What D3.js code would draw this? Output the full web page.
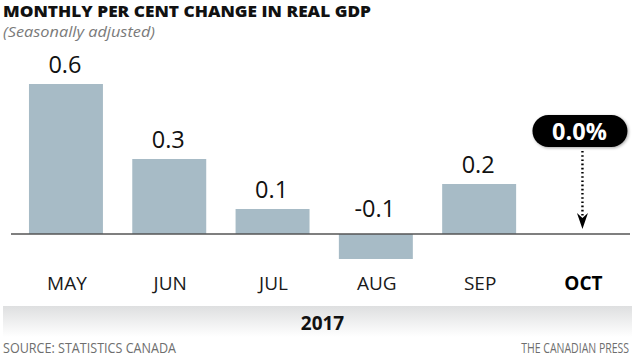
<!DOCTYPE html>
<html>
<head>
<meta charset="utf-8">
<script src="https://cdn.jsdelivr.net/npm/d3@7"></script>
<style>
  html, body { margin: 0; padding: 0; background: #fff; }
  svg { display: block; font-family: "Open Sans", "Noto Sans", sans-serif; }
</style>
</head>
<body>
<svg id="chart" width="635" height="357"></svg>
<script>
const months = ["MAY", "JUN", "JUL", "AUG", "SEP", "OCT"];
const values = [0.6, 0.3, 0.1, -0.1, 0.2, 0.0];
const valueLabels = ["0.6", "0.3", "0.1", "-0.1", "0.2", "0.0%"];
const highlightMonth = "OCT";
const yearLabel = "2017";
const titleText = "MONTHLY PER CENT CHANGE IN REAL GDP";
const subtitleText = "(Seasonally adjusted)";
const sourceText = "SOURCE: STATISTICS CANADA";
const creditText = "THE CANADIAN PRESS";

const svg = d3.select("#chart");
const defs = svg.append("defs");

const x = d3.scaleBand()
  .domain(months)
  .range([14.3, 634.1])
  .paddingInner(0.284)
  .paddingOuter(0.142);

const y = d3.scaleLinear().domain([-0.1, 0.6]).range([259, 84]);

// Title & subtitle
svg.append("text")
  .attr("x", 3).attr("y", 17)
  .attr("font-size", 16).attr("font-weight", 800).attr("fill", "#111")
  .attr("textLength", 368).attr("lengthAdjust", "spacingAndGlyphs")
  .text(titleText);
svg.append("text")
  .attr("x", 3).attr("y", 36.5)
  .attr("font-size", 14).attr("font-style", "italic").attr("fill", "#7a7a7a")
  .attr("textLength", 152).attr("lengthAdjust", "spacingAndGlyphs")
  .text(subtitleText);

const data = months.map((m, i) => ({ m, v: values[i], label: valueLabels[i] }));
const barData = data.filter(d => d.m !== highlightMonth);

// Bars
svg.append("g").selectAll("rect").data(barData).join("rect")
  .attr("x", d => x(d.m))
  .attr("width", x.bandwidth())
  .attr("y", d => Math.min(y(d.v), y(0)))
  .attr("height", d => Math.abs(y(d.v) - y(0)))
  .attr("fill", "#a7bbc6");

// Zero line
svg.append("line")
  .attr("x1", 11).attr("x2", 630)
  .attr("y1", y(0)).attr("y2", y(0))
  .attr("stroke", "#555").attr("stroke-width", 1.3);

// Value labels
svg.append("g").selectAll("text").data(barData).join("text")
  .attr("x", d => x(d.m) + x.bandwidth() / 2 - 1)
  .attr("y", d => d.v >= 0 ? y(d.v) - 11 : y(0) - 17)
  .attr("text-anchor", "middle")
  .attr("font-size", 23.5).attr("fill", "#111")
  .text(d => d.label);

// Highlight callout for OCT
const hl = data.find(d => d.m === highlightMonth);
const cx = x(hl.m) + x.bandwidth() / 2;
const filt = defs.append("filter").attr("id", "shadow")
  .attr("x", "-20%").attr("y", "-30%").attr("width", "140%").attr("height", "160%");
filt.append("feDropShadow").attr("dx", 1).attr("dy", 1).attr("stdDeviation", 1.5)
  .attr("flood-color", "#000").attr("flood-opacity", 0.35);

svg.append("rect")
  .attr("x", cx - 50).attr("y", 115)
  .attr("width", 95).attr("height", 32).attr("rx", 16).attr("ry", 16)
  .attr("fill", "#000").attr("filter", "url(#shadow)");
svg.append("text")
  .attr("x", cx - 3).attr("y", 139.5)
  .attr("text-anchor", "middle")
  .attr("font-size", 23.5).attr("font-weight", 700).attr("fill", "#fff")
  .text(hl.label);

svg.append("line")
  .attr("x1", cx).attr("x2", cx)
  .attr("y1", 151).attr("y2", 217)
  .attr("stroke", "#000").attr("stroke-width", 2.4)
  .attr("stroke-dasharray", "1.6,2.6");
svg.append("path")
  .attr("d", `M${cx},${y(0) - 5} L${cx - 5.5},${y(0) - 21} L${cx},${y(0) - 16} L${cx + 5.5},${y(0) - 21} Z`)
  .attr("fill", "#000");

// Month labels
svg.append("g").selectAll("text").data(data).join("text")
  .attr("x", d => x(d.m) + x.bandwidth() / 2 + 1)
  .attr("y", 290)
  .attr("text-anchor", "middle")
  .attr("font-size", 19)
  .attr("font-weight", d => d.m === highlightMonth ? 700 : 400)
  .attr("fill", d => d.m === highlightMonth ? "#000" : "#1a1a1a")
  .text(d => d.m);

// Year band
const grad = defs.append("linearGradient").attr("id", "band")
  .attr("x1", 0).attr("x2", 0).attr("y1", 0).attr("y2", 1);
grad.append("stop").attr("offset", "0%").attr("stop-color", "#dedfe0");
grad.append("stop").attr("offset", "100%").attr("stop-color", "#ffffff");
svg.append("rect")
  .attr("x", 3).attr("y", 306).attr("width", 629).attr("height", 31)
  .attr("fill", "url(#band)");
svg.append("text")
  .attr("x", 322.5).attr("y", 330)
  .attr("text-anchor", "middle")
  .attr("font-size", 19).attr("font-weight", 700).attr("fill", "#111")
  .text(yearLabel);

// Footer
svg.append("text")
  .attr("x", 3).attr("y", 352.5)
  .attr("font-size", 14).attr("fill", "#6e6e6e")
  .attr("textLength", 173).attr("lengthAdjust", "spacingAndGlyphs")
  .text(sourceText);
svg.append("g")
  .attr("transform", "translate(629,352.5) scale(0.75,1)")
  .append("text")
  .attr("x", 0).attr("y", 0)
  .attr("text-anchor", "end")
  .attr("font-size", 14).attr("fill", "#6e6e6e")
  .text(creditText);
</script>
</body>
</html>
